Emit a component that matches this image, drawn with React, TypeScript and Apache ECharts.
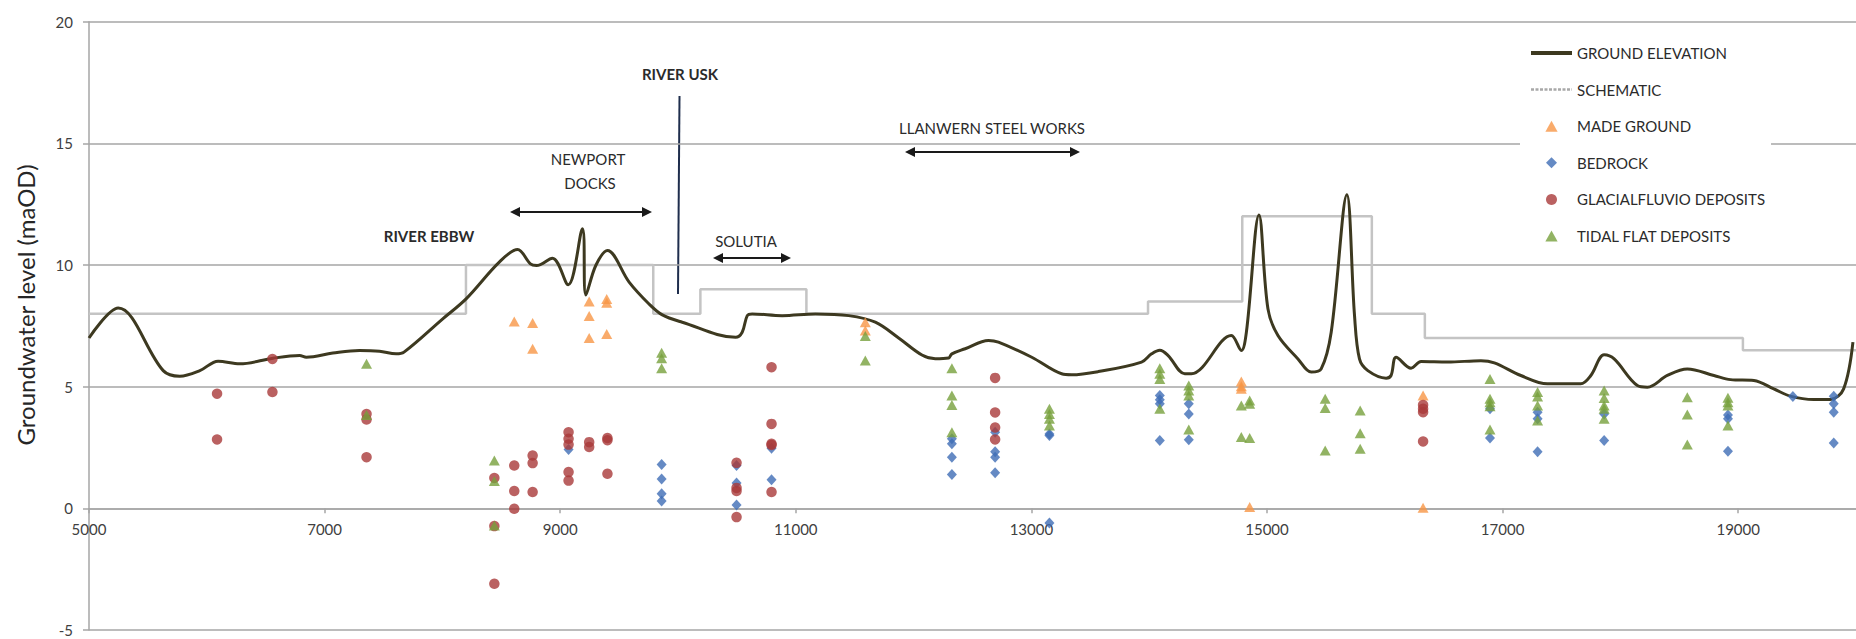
import React, { useEffect, useRef } from "react";
import * as echarts from "echarts";

// ---------- data ----------
const xTickValues = [5000, 7000, 9000, 11000, 13000, 15000, 17000, 19000];
const xMin = 5000;
const xMax = 20000;
const yMin = -5;
const yMax = 20;
const yStep = 5;

const seriesNames = [
  "GROUND ELEVATION",
  "SCHEMATIC",
  "MADE GROUND",
  "BEDROCK",
  "GLACIALFLUVIO DEPOSITS",
  "TIDAL FLAT DEPOSITS",
];

const groundElevation: [number, number][] = [
  [5000, 7.0], [5248, 8.23], [5630, 5.66], [5771, 5.43], [5941, 5.66], [6096, 6.05],
  [6280, 5.94], [6562, 6.17], [6788, 6.28], [6845, 6.21], [7070, 6.38], [7296, 6.49],
  [7466, 6.46], [7607, 6.35], [7674, 6.42], [8003, 7.79], [8201, 8.61], [8483, 10.12],
  [8638, 10.64], [8747, 10.05], [8799, 9.98], [8934, 10.28], [9068, 9.19], [9189, 11.49],
  [9218, 8.77], [9302, 9.98], [9401, 10.6], [9585, 9.3], [9754, 8.4], [9867, 7.95],
  [10036, 7.65], [10489, 7.03], [10545, 7.24], [10588, 7.92], [10630, 7.99], [10884, 7.92],
  [11167, 7.99], [11449, 7.92], [11675, 7.65], [11873, 7.0], [12071, 6.3], [12184, 6.15],
  [12297, 6.18], [12325, 6.35], [12438, 6.56], [12636, 6.9], [12720, 6.83], [13003, 6.21],
  [13257, 5.53], [13341, 5.49], [13568, 5.62], [13935, 6.01], [14020, 6.35], [14090, 6.5],
  [14161, 6.28], [14302, 5.53], [14358, 5.53], [14697, 7.1], [14782, 6.49], [14825, 7.24],
  [14932, 12.06], [15008, 8.2], [15093, 7.1], [15263, 6.14], [15375, 5.6], [15460, 5.73],
  [15545, 7.24], [15678, 12.89], [15743, 7.92], [15785, 6.14], [15856, 5.66], [16011, 5.35],
  [16053, 5.46], [16096, 6.21], [16223, 5.76], [16308, 6.03], [16534, 6.01], [16816, 6.07],
  [16930, 5.98], [17155, 5.46], [17381, 5.12], [17664, 5.12], [17749, 5.46], [17862, 6.31],
  [17947, 6.14], [18144, 5.05], [18229, 4.98], [18398, 5.46], [18568, 5.73], [18794, 5.46],
  [18935, 5.29], [19133, 5.25], [19302, 4.91], [19443, 4.61], [19641, 4.47], [19782, 4.47],
  [19895, 4.91], [19974, 6.83],
];

const schematic: [number, number][] = [
  [5000, 8], [8200, 8], [8200, 10], [9790, 10], [9790, 8], [10190, 8], [10190, 9],
  [11090, 9], [11090, 8], [13990, 8], [13990, 8.5], [14790, 8.5], [14790, 12],
  [15890, 12], [15890, 8], [16340, 8], [16340, 7], [19040, 7], [19040, 6.5], [20000, 6.5],
];

const madeGround: [number, number][] = [
  [8610, 7.68], [8766, 7.62], [8766, 6.56], [9246, 8.5], [9246, 7.9], [9246, 7.0],
  [9395, 8.6], [9395, 8.45], [9395, 7.17], [11590, 7.65], [11590, 7.31], [14782, 5.21],
  [14782, 5.02], [14782, 4.91], [14853, 0.05], [16325, 4.64], [16325, 0.02],
];

const bedrock: [number, number][] = [
  [9071, 2.42], [9861, 1.8], [9861, 1.21], [9861, 0.6], [9861, 0.3], [10497, 1.76],
  [10497, 1.04], [10497, 0.14], [10794, 2.47], [10794, 1.17], [12325, 2.86], [12325, 2.65],
  [12325, 2.1], [12325, 1.39], [12692, 3.13], [12692, 2.33], [12692, 2.1], [12692, 1.46],
  [13153, 3.06], [13153, 2.99], [13153, -0.6], [14090, 4.64], [14090, 4.46], [14090, 4.3],
  [14090, 2.79], [14336, 4.3], [14336, 3.88], [14336, 2.82], [16893, 4.09], [16893, 2.89],
  [17297, 3.95], [17297, 3.68], [17297, 2.33], [17862, 3.88], [17862, 2.79], [18913, 3.84],
  [18913, 3.68], [18913, 2.35], [19464, 4.6], [19811, 4.61], [19811, 4.3], [19811, 3.95],
  [19811, 2.69],
];

const glacialfluvio: [number, number][] = [
  [6087, 4.71], [6087, 2.83], [6557, 6.14], [6557, 4.78], [7356, 3.88], [7356, 3.65],
  [7356, 2.1], [8441, 1.25], [8441, -0.73], [8441, -3.1], [8610, 1.76], [8610, 0.71],
  [8610, -0.02], [8766, 2.17], [8766, 1.86], [8766, 0.67], [9071, 3.13], [9071, 2.86],
  [9071, 2.62], [9071, 1.49], [9071, 1.14], [9246, 2.72], [9246, 2.52], [9401, 2.89],
  [9401, 2.8], [9401, 1.42], [10497, 1.87], [10497, 0.84], [10497, 0.71], [10497, -0.36],
  [10794, 5.8], [10794, 3.47], [10794, 2.65], [10794, 2.6], [10794, 0.67], [12692, 5.36],
  [12692, 3.94], [12692, 3.32], [12692, 2.83], [16325, 4.25], [16325, 4.09], [16325, 3.95],
  [16325, 2.75],
];

const tidalFlat: [number, number][] = [
  [7356, 5.94], [7356, 3.84], [8441, 1.97], [8441, 1.12], [8441, -0.71], [9861, 6.39],
  [9861, 6.17], [9861, 5.76], [11590, 7.08], [11590, 6.08], [12325, 5.76], [12325, 4.64],
  [12325, 4.25], [12325, 3.13], [13153, 4.09], [13153, 3.88], [13153, 3.68], [13153, 3.4],
  [14090, 5.76], [14090, 5.53], [14090, 5.32], [14090, 4.09], [14336, 5.05], [14336, 4.84],
  [14336, 4.64], [14336, 3.24], [14782, 4.23], [14782, 2.93], [14853, 4.43], [14853, 4.3],
  [14853, 2.89], [15494, 4.5], [15494, 4.12], [15494, 2.38], [15791, 4.02], [15791, 3.09],
  [15791, 2.45], [16893, 5.32], [16893, 4.5], [16893, 4.36], [16893, 4.2], [16893, 3.24],
  [17297, 4.78], [17297, 4.6], [17297, 4.23], [17297, 3.61], [17862, 4.84], [17862, 4.53],
  [17862, 4.23], [17862, 4.09], [17862, 3.68], [18568, 4.57], [18568, 3.86], [18568, 2.62],
  [18913, 4.54], [18913, 4.36], [18913, 4.23], [18913, 3.4],
];

// ---------- styling ----------
const FONT = "Lato, 'Noto Sans', sans-serif";
const TEXT = "#2b2b2b";
const AXIS_TEXT = "#404040";
const GRID = "#a6a6a6";
const C_GROUND = "#3d3920";
const C_SCHEM = "#c4c4c4";
const C_MADE = "#f79646";
const C_BED = "#3e6db5";
const C_GLAC = "#a93939";
const C_TIDAL = "#77a03c";
const ARROW = "#1a1a1a";

const GRID_TOP = 21.7;
const GRID_H = 608.3;
// x axis sits on the y = 0 line: shift it up from the grid bottom by |yMin| units
const X_AXIS_OFFSET = -(GRID_H * (0 - yMin)) / (yMax - yMin);

function arrow(x1: number, x2: number, y: number) {
  const hl = 10;
  const hh = 5;
  return {
    type: "group",
    children: [
      { type: "line", shape: { x1: x1 + hl - 1, y1: y, x2: x2 - hl + 1, y2: y }, style: { stroke: ARROW, lineWidth: 2 } },
      { type: "polygon", shape: { points: [[x1, y], [x1 + hl, y - hh], [x1 + hl, y + hh]] }, style: { fill: ARROW } },
      { type: "polygon", shape: { points: [[x2, y], [x2 - hl, y - hh], [x2 - hl, y + hh]] }, style: { fill: ARROW } },
    ],
  };
}

function label(text: string, x: number, y: number, bold = false, size = 15) {
  return {
    type: "text",
    x,
    y,
    style: {
      text,
      fill: TEXT,
      font: `${bold ? "bold " : ""}${size}px ${FONT}`,
      fontFamily: FONT,
      fontSize: size,
      fontWeight: bold ? "bold" : "normal",
      textAlign: "center",
      textVerticalAlign: "middle",
      align: "center",
      verticalAlign: "middle",
    },
  };
}

function dashPath(total: number, on: number, off: number, h: number) {
  let d = "";
  for (let x = 0; x < total; x += on + off) {
    const w = Math.min(on, total - x);
    d += `M${x},0h${w}v${h}h${-w}z`;
  }
  return "path://" + d;
}

export default function App() {
  const ref = useRef<HTMLDivElement>(null);

  useEffect(() => {
    if (!ref.current) return;
    const chart = echarts.init(ref.current, undefined, { renderer: "svg" });

    const scatterBase = { type: "scatter", z: 3 };

    chart.setOption({
      animation: false,
      backgroundColor: "#ffffff",
      textStyle: { fontFamily: FONT },
      grid: { left: 89, top: GRID_TOP, width: 1770, height: GRID_H, containLabel: false },
      xAxis: {
        type: "value",
        min: xMin,
        max: xMax,
        offset: X_AXIS_OFFSET,
        splitLine: { show: false },
        axisLine: { show: true, onZero: false, lineStyle: { color: GRID, width: 1.5 } },
        axisTick: { show: true, customValues: xTickValues, length: 5, lineStyle: { color: GRID, width: 1.5 } },
        axisLabel: {
          customValues: xTickValues,
          margin: 13,
          fontSize: 15,
          color: AXIS_TEXT,
          fontFamily: FONT,
          formatter: (v: number) => String(v),
        },
      },
      yAxis: {
        type: "value",
        min: yMin,
        max: yMax,
        interval: yStep,
        axisLine: { show: true, onZero: false, lineStyle: { color: GRID, width: 1.5 } },
        axisTick: { show: true, length: 6, lineStyle: { color: GRID, width: 1.5 } },
        splitLine: { show: true, lineStyle: { color: GRID, width: 1.5 } },
        axisLabel: { margin: 16, fontSize: 15, color: AXIS_TEXT, fontFamily: FONT, formatter: (v: number) => String(v) },
      },
      legend: {
        orient: "vertical",
        left: 1520,
        top: 32,
        padding: [12, 6, 12, 11],
        backgroundColor: "#ffffff",
        itemWidth: 41,
        itemHeight: 11,
        itemGap: 18.6,
        selectedMode: false,
        itemStyle: { borderWidth: 0 },
        textStyle: { fontFamily: FONT, fontSize: 15, color: TEXT, lineHeight: 18 },
        data: [
          { name: seriesNames[0], icon: "path://M0,0H41V4H0Z", itemStyle: { color: C_GROUND, borderWidth: 0 } },
          { name: seriesNames[1], icon: dashPath(41, 3, 1.5, 2.5), itemStyle: { color: "#a8a8a8", borderWidth: 0 } },
          { name: seriesNames[2], icon: "path://M5,0L10,9H0Z", itemStyle: { color: C_MADE, borderWidth: 0 } },
          { name: seriesNames[3], icon: "path://M5,0L10,5L5,10L0,5Z", itemStyle: { color: C_BED, borderWidth: 0 } },
          { name: seriesNames[4], icon: "circle", itemStyle: { color: C_GLAC, borderWidth: 0 } },
          { name: seriesNames[5], icon: "path://M5,0L10,9H0Z", itemStyle: { color: C_TIDAL, borderWidth: 0 } },
        ],
      },
      graphic: [
        {
          type: "text",
          x: 25,
          y: 305,
          rotation: Math.PI / 2,
          style: {
            text: "Groundwater level (maOD)",
            fill: "#262626",
            font: `24px ${FONT}`,
            fontFamily: FONT,
            fontSize: 24,
            textAlign: "center",
            textVerticalAlign: "middle",
            align: "center",
            verticalAlign: "middle",
          },
        },
        label("RIVER EBBW", 429, 236, true, 15),
        label("RIVER USK", 680, 74, true, 15),
        label("NEWPORT", 588, 159),
        label("DOCKS", 590, 183),
        label("SOLUTIA", 746, 241),
        label("LLANWERN STEEL WORKS", 992, 128),
        {
          type: "line",
          shape: { x1: 679.5, y1: 96, x2: 678, y2: 294 },
          style: { stroke: "#1f2e4d", lineWidth: 2 },
        },
        arrow(510, 652, 212),
        arrow(713, 791, 258),
        arrow(905, 1080, 152),
      ],
      series: [
        {
          name: seriesNames[0],
          type: "line",
          data: groundElevation,
          smooth: 0.35,
          showSymbol: false,
          symbol: "none",
          z: 2,
          lineStyle: { color: C_GROUND, width: 3 },
          itemStyle: { color: C_GROUND },
        },
        {
          name: seriesNames[1],
          type: "line",
          data: schematic,
          showSymbol: false,
          symbol: "none",
          z: 1,
          lineStyle: { color: C_SCHEM, width: 2.5 },
          itemStyle: { color: C_SCHEM },
        },
        { ...scatterBase, name: seriesNames[2], data: madeGround, symbol: "triangle", symbolSize: [11, 10], itemStyle: { color: C_MADE } },
        { ...scatterBase, name: seriesNames[3], data: bedrock, symbol: "diamond", symbolSize: [10, 11], itemStyle: { color: C_BED } },
        { ...scatterBase, name: seriesNames[4], data: glacialfluvio, symbol: "circle", symbolSize: 10.5, itemStyle: { color: C_GLAC } },
        { ...scatterBase, name: seriesNames[5], data: tidalFlat, symbol: "triangle", symbolSize: [11, 10], itemStyle: { color: C_TIDAL } },
      ],
    });

    return () => chart.dispose();
  }, []);

  return (
    <div
      ref={ref}
      style={{ position: "absolute", left: 0, top: 0, width: 1856, height: 639, background: "#fff" }}
    />
  );
}
